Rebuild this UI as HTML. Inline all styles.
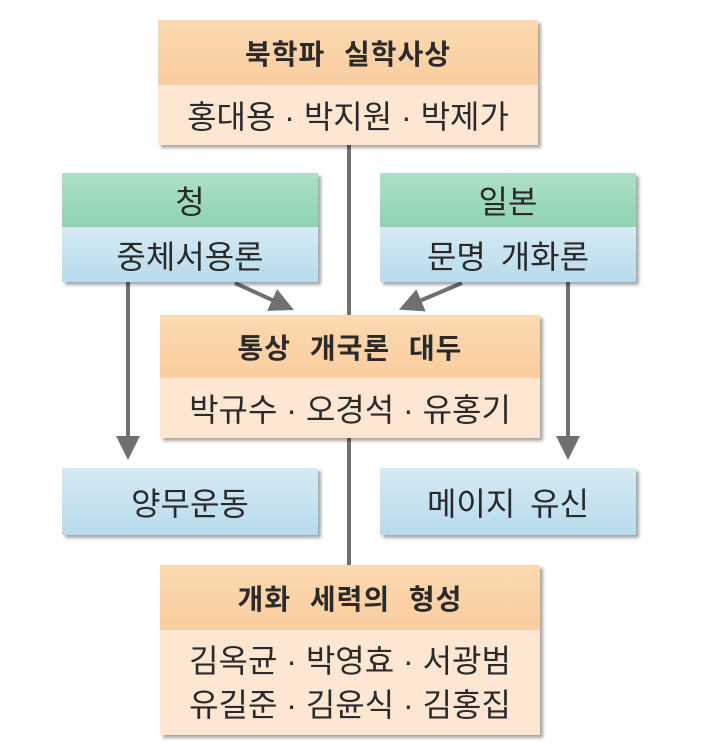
<!DOCTYPE html>
<html><head><meta charset="utf-8"><style>
body{margin:0;width:720px;height:754px;background:#fff;position:relative;overflow:hidden;font-family:"Liberation Sans","Noto Sans CJK KR",sans-serif;color:#2a2a2a}
.b{position:absolute;box-shadow:3px 3px 3px rgba(0,0,0,.35);}
.r{position:absolute;left:0;right:0;display:flex;align-items:center;justify-content:center;font-size:32px;white-space:nowrap}
.o1{background:linear-gradient(#fcd9b0,#f9cda0)}
.o2{background:#fde7d2}
.g1{background:linear-gradient(#aee0c6,#8fd2b2)}
.bl{background:linear-gradient(#d6eaf4,#b8dbec)}
.h{font-weight:bold;font-size:28px;word-spacing:10px;letter-spacing:1px}
</style></head><body>
<svg width="720" height="754" style="position:absolute;left:0;top:0">
<defs><marker id="a" markerWidth="6" markerHeight="6" refX="3" refY="3" orient="auto" markerUnits="strokeWidth"><path d="M0,0 L6,3 L0,6 z" fill="#707070"/></marker></defs>
<g stroke="#707070" stroke-width="4" fill="none">
<line x1="349" y1="145" x2="349" y2="315"/>
<line x1="349" y1="438" x2="349" y2="565"/>
<line x1="128" y1="282" x2="128" y2="448" marker-end="url(#a)"/>
<line x1="568" y1="282" x2="568" y2="448" marker-end="url(#a)"/>
<line x1="235" y1="283" x2="283" y2="305" marker-end="url(#a)"/>
<line x1="462" y1="283" x2="410" y2="305" marker-end="url(#a)"/>
</g></svg>
<div class="b" style="left:158px;top:20px;width:380px;height:125px">
<div class="r o1 h" style="top:0;height:65px">북학파 실학사상</div>
<div class="r o2" style="top:65px;height:60px">홍대용 · 박지원 · 박제가</div></div>
<div class="b" style="left:62px;top:173px;width:256px;height:109px">
<div class="r g1" style="top:0;height:54px">청</div>
<div class="r bl" style="top:54px;height:55px">중체서용론</div></div>
<div class="b" style="left:380px;top:173px;width:256px;height:109px">
<div class="r g1" style="top:0;height:54px">일본</div>
<div class="r bl" style="top:54px;height:55px;word-spacing:6px">문명 개화론</div></div>
<div class="b" style="left:160px;top:315px;width:380px;height:123px">
<div class="r o1 h" style="top:0;height:63px">통상 개국론 대두</div>
<div class="r o2" style="top:63px;height:60px">박규수 · 오경석 · 유홍기</div></div>
<div class="b" style="left:62px;top:468px;width:256px;height:67px"><div class="r bl" style="top:0;height:67px">양무운동</div></div>
<div class="b" style="left:380px;top:468px;width:256px;height:67px"><div class="r bl" style="top:0;height:67px;word-spacing:6px">메이지 유신</div></div>
<div class="b" style="left:160px;top:565px;width:380px;height:170px">
<div class="r o1 h" style="top:0;height:65px">개화 세력의 형성</div>
<div class="r o2" style="top:65px;height:105px;flex-direction:column;line-height:44px">김옥균 · 박영효 · 서광범<br>유길준 · 김윤식 · 김홍집</div></div>
</body></html>
